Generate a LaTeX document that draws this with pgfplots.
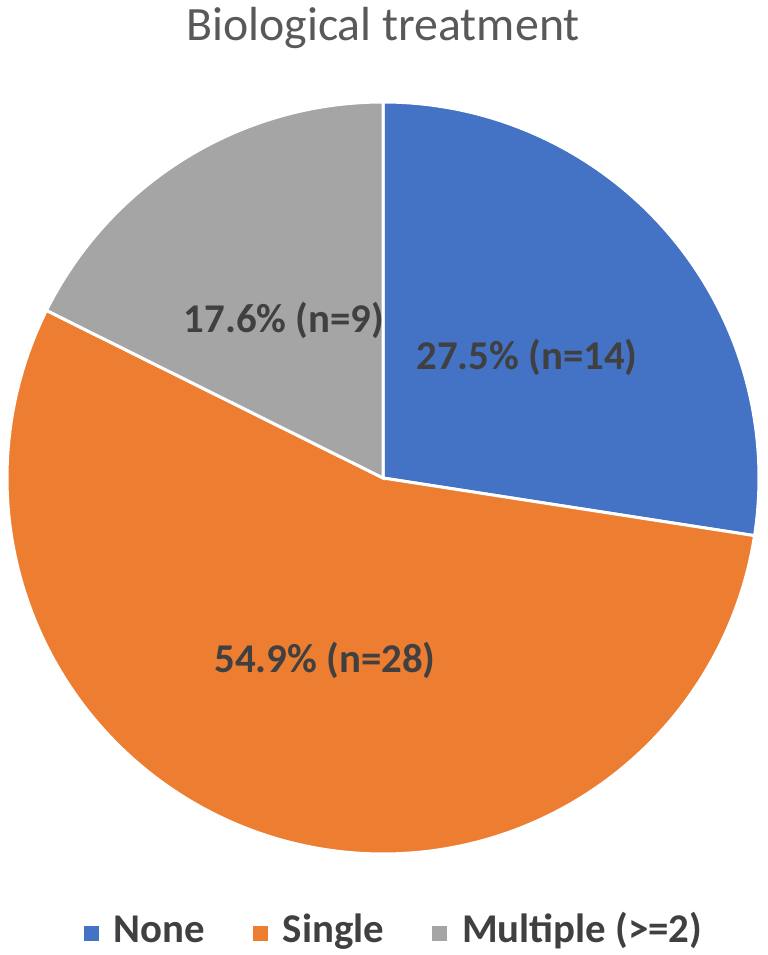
\documentclass[border=0pt]{standalone}
\usepackage{fontspec}
\setmainfont{Carlito}
\usepackage{pgfplots}
\pgfplotsset{compat=1.18}

\definecolor{cNone}{HTML}{4472C4}
\definecolor{cSingle}{HTML}{ED7D31}
\definecolor{cMulti}{HTML}{A5A5A5}
\definecolor{txtdark}{HTML}{404040}
\definecolor{txttitle}{HTML}{595959}

% counts per category
\def\nA{14}
\def\nB{28}
\def\nC{9}

\begin{document}
\begin{tikzpicture}
\path[use as bounding box] (0,0) rectangle (768bp,955bp);
\pgfmathsetmacro\tot{\nA+\nB+\nC}
\pgfmathsetmacro\aA{90-360*\nA/\tot}
\pgfmathsetmacro\aB{\aA-360*\nB/\tot}
\begin{axis}[
  at={(0,0)}, anchor=south west,
  width=768bp, height=955bp, scale only axis,
  xmin=0, xmax=768, ymin=0, ymax=955,
  hide axis, clip=false,
  legend columns=3,
  legend style={at={(axis cs:392,27)}, anchor=center, draw=none, fill=none,
    font=\fontsize{41}{41}\selectfont\bfseries, text=txtdark,
    /tikz/every even column/.append style={column sep=44bp},
    /tikz/every odd column/.append style={column sep=0bp},
    nodes={inner sep=1bp, anchor=base west}},
  legend image code/.code={\fill[#1] (0bp,0bp) rectangle (18bp,18bp);
    \path (29bp,0bp);},
]
\addplot[fill=cNone, draw=white, line width=3bp, domain=\aA:90, samples=150]
  ({383+376*cos(x)}, {477+376*sin(x)}) -- (axis cs:383,477) -- cycle;
\addlegendentry{None}
\addplot[fill=cSingle, draw=white, line width=3bp, domain=\aB:\aA, samples=200]
  ({383+376*cos(x)}, {477+376*sin(x)}) -- (axis cs:383,477) -- cycle;
\addlegendentry{Single}
\addplot[fill=cMulti, draw=white, line width=3bp, domain=-270:\aB, samples=100]
  ({383+376*cos(x)}, {477+376*sin(x)}) -- (axis cs:383,477) -- cycle;
\addlegendentry{Multiple (>=2)}

\node[font=\fontsize{48}{48}\selectfont, text=txttitle] at (axis cs:383,927) {Biological treatment};
\node[font=\fontsize{41}{41}\selectfont\bfseries, text=txtdark] at (axis cs:527,598) {27.5\% (n=14)};
\node[font=\fontsize{41}{41}\selectfont\bfseries, text=txtdark] at (axis cs:284,635) {17.6\% (n=9)};
\node[font=\fontsize{41}{41}\selectfont\bfseries, text=txtdark] at (axis cs:325,295) {54.9\% (n=28)};
\end{axis}
\end{tikzpicture}
\end{document}
